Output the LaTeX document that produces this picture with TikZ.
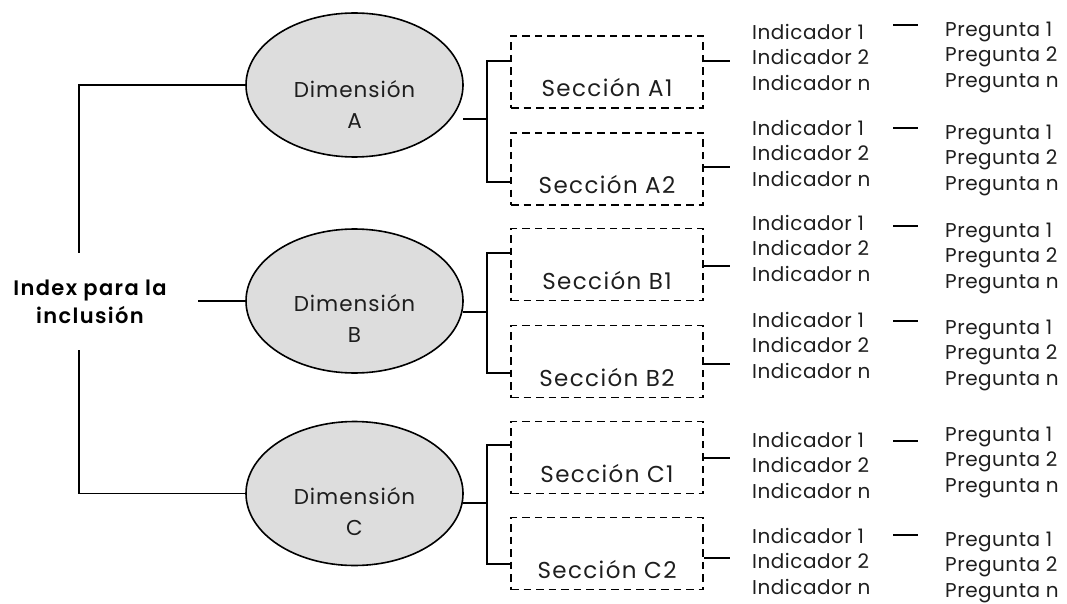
\documentclass[tikz,border=0pt]{standalone}
\usepackage{fontspec}
\setmainfont{Poppins}
\newfontfamily\listfont[LetterSpace=2.5]{Poppins}
\newfontfamily\dimfont[LetterSpace=4.5]{Poppins}
\newfontfamily\secfont[LetterSpace=6]{Poppins}
\newfontfamily\rootfont[LetterSpace=6.5]{Poppins SemiBold}
\usetikzlibrary{shapes.geometric}
\definecolor{inkc}{RGB}{30,30,30}
\definecolor{dimfill}{RGB}{221,221,221}
\begin{document}
\begin{tikzpicture}[x=1pt,y=-1pt,
  conn/.style={line width=1.8pt, draw=black},
  dimnode/.style={ellipse, draw=black, line width=1.6pt, fill=dimfill,
    minimum width=217pt, minimum height=144pt, inner sep=0pt},
  dimtext/.style={align=center, inner sep=0pt, text=inkc,
    font=\dimfont\fontsize{21.5}{31}\selectfont},
  secbox/.style={draw=black, dash pattern=on 7.5pt off 5pt, line width=1.6pt,
    minimum width=192pt, minimum height=72pt, inner sep=0pt},
  sectext/.style={inner sep=0pt, text=inkc,
    font=\secfont\fontsize{23}{26}\selectfont},
  listtext/.style={align=left, anchor=west, inner sep=0pt, text=inkc,
    font=\listfont\fontsize{20}{25.5}\selectfont},
  roottext/.style={align=center, inner sep=0pt, text=black,
    font=\rootfont\fontsize{21}{28}\selectfont}
]
\useasboundingbox (0,0) rectangle (1067,604);

% root label
\node[roottext] (idx) at (90,302) {Index para la\\inclusión};

% dimensions
\node[dimnode] (A) at (354.5,85) {};
\node[dimnode] (B) at (354.5,301) {};
\node[dimnode] (C) at (354.5,493.5) {};
\node[dimtext] (At) at (354.5,105) {Dimensión\\A};
\node[dimtext] (Bt) at (354.5,319) {Dimensión\\B};
\node[dimtext] (Ct) at (354.5,512) {Dimensión\\C};

% root connectors
\coordinate (rootup) at (79,253);
\coordinate (rootdown) at (79,350);
\draw[conn] (A.west) -| (rootup);
\draw[conn] (rootdown) |- (C.west);
\draw[conn] (B.west) -- ++(-47,0);

% sections, their indicators and questions
\foreach \n/\by/\oy/\iy/\py/\dy in {
  A1/72/61/57/57/25, A2/169/167/153/160/128,
  B1/264.5/266/248/258/226, B2/361.5/364/345/355/321,
  C1/457.5/458/465/462/441, C2/553.5/558/561/567/535}{
  \node[secbox] (S\n) at (607,\by) {};
  \node[sectext] (T\n) at (607,\by+16) {Sección \n};
  \coordinate (O\n) at (730,\oy);
  \draw[conn] (S\n.east |- O\n) -- (O\n);
  \node[listtext] (I\n) at (752,\iy) {Indicador 1\\Indicador 2\\Indicador n};
  \node[listtext] (P\n) at (945,\py) {Pregunta 1\\Pregunta 2\\Pregunta n};
  \coordinate (D\n) at (893,\dy);
  \draw[conn] (D\n) -- ++(25,0);
}

% dimension-to-section brackets
\foreach \d/\oy/\ta/\tb in {A/119/61/182, B/312/253/373, C/503/445/564}{
  \coordinate (\d out) at (463,\oy);
  \coordinate (\d bar) at (487,\oy);
  \draw[conn] (\d out) -- (\d bar);
  \draw[conn] (S\d1.west |- 0,\ta) -| (487,\tb) -- (S\d2.west |- 0,\tb);
}
\end{tikzpicture}
\end{document}
